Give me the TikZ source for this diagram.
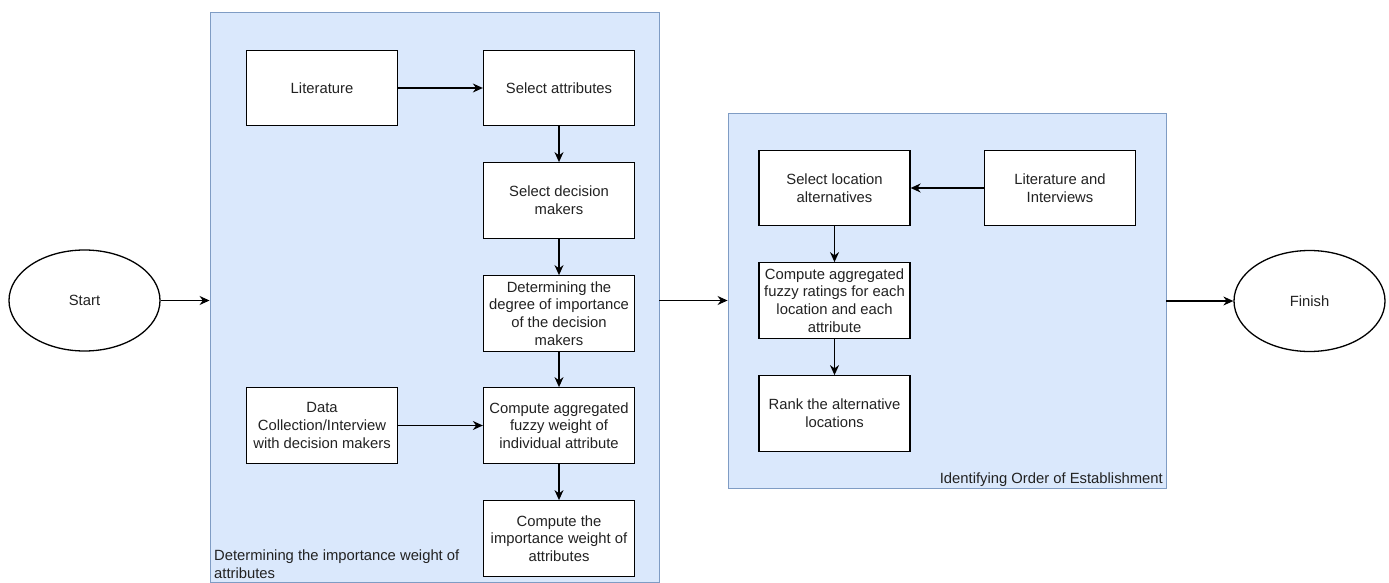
\documentclass[tikz,border=0pt]{standalone}
\usepackage{fontspec}
\setmainfont{Liberation Sans}
\usetikzlibrary{shapes.geometric,arrows.meta}
\definecolor{contfill}{HTML}{DAE8FC}
\definecolor{contdraw}{HTML}{7F9CC4}
\definecolor{txt}{HTML}{222222}
\begin{document}
\begin{tikzpicture}[x=1pt,y=-1pt,
  font=\fontsize{14.8}{17.7}\selectfont,text=txt,
  box/.style={draw=black,line width=1.3pt,fill=white,minimum width=151pt,minimum height=75.5pt,align=center,inner sep=2pt},
  oval/.style={draw=black,line width=1.3pt,ellipse,minimum width=151pt,minimum height=101pt},
  cont/.style={draw=contdraw,line width=0.9pt,fill=contfill},
  arr/.style={line width=1.3pt,-{Stealth[length=10pt,width=9pt]}}]
\useasboundingbox (0,0) rectangle (1389,583);
\fill[white] (0,0) rectangle (1389,583);
% containers
\node[cont,minimum width=449pt,minimum height=570pt,inner sep=0pt] (c1) at (434.5,297.5) {};
\node[cont,minimum width=438pt,minimum height=375pt,inner sep=0pt] (c2) at (947,300.5) {};
\node[anchor=south west,align=left,inner sep=2pt] (c1lab) at (212,581) {Determining the importance weight of\\attributes};
\node[anchor=south east,align=right,inner sep=2pt] (c2lab) at (1165,489) {Identifying Order of Establishment};
% ellipses
\node[oval] (start) at (84.5,300.5) {Start};
\node[oval] (finish) at (1309.5,301) {Finish};
% boxes container 1
\node[box] (lit) at (322,88) {Literature};
\node[box] (selattr) at (559,88) {Select attributes};
\node[box] (seldm) at (559,200.5) {Select decision\\makers};
\node[box] (detdeg) at (559,313.5) {Determining the\\degree of importance\\of the decision\\makers};
\node[box] (data) at (322,425.5) {Data\\Collection/Interview\\with decision makers};
\node[box] (compagg) at (559,425.5) {Compute aggregated\\fuzzy weight of\\individual attribute};
\node[box] (compimp) at (559,538.5) {Compute the\\importance weight of\\attributes};
% boxes container 2
\node[box] (selloc) at (834.5,188) {Select location\\alternatives};
\node[box] (litint) at (1060,188) {Literature and\\Interviews};
\node[box] (compfuzzy) at (834.5,300.5) {Compute aggregated\\fuzzy ratings for each\\location and each\\attribute};
\node[box] (rank) at (834.5,413.5) {Rank the alternative\\locations};
% arrows
\draw[arr] (start.east) -- (start.east -| c1.west);
\draw[arr] (c1.east |- start.east) -- (c2.west |- start.east);
\draw[arr] (c2.east |- finish.west) -- (finish.west);
\draw[arr] (lit) -- (selattr);
\draw[arr] (selattr) -- (seldm);
\draw[arr] (seldm) -- (detdeg);
\draw[arr] (detdeg) -- (compagg);
\draw[arr] (data) -- (compagg);
\draw[arr] (compagg) -- (compimp);
\draw[arr] (litint) -- (selloc);
\draw[arr] (selloc) -- (compfuzzy);
\draw[arr] (compfuzzy) -- (rank);
\end{tikzpicture}
\end{document}
